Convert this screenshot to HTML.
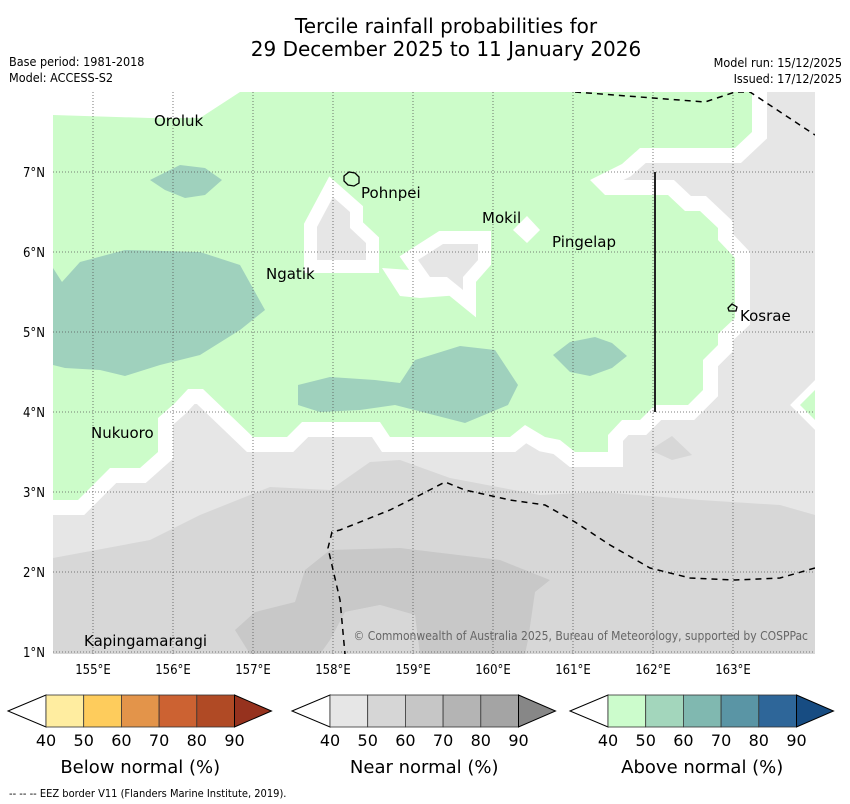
<!DOCTYPE html>
<html><head><meta charset="utf-8"><style>
body{margin:0;background:#fff;width:850px;height:804px;overflow:hidden}
svg{display:block;font-family:"DejaVu Sans Condensed","DejaVu Sans","Liberation Sans",sans-serif}
</style></head><body>
<svg id="chart" width="850" height="804" viewBox="0 0 850 804">
<text x="446" y="33" font-size="20" text-anchor="middle" font-family="DejaVu Sans, sans-serif">Tercile rainfall probabilities for</text>
<text x="446" y="56" font-size="20" text-anchor="middle" font-family="DejaVu Sans, sans-serif">29 December 2025 to 11 January 2026</text>
<text x="9" y="66" font-size="12.5">Base period: 1981-2018</text>
<text x="9" y="82" font-size="12.5">Model: ACCESS-S2</text>
<text x="842" y="67" font-size="12.5" text-anchor="end">Model run: 15/12/2025</text>
<text x="842" y="83" font-size="12.5" text-anchor="end">Issued: 17/12/2025</text>
<defs><clipPath id="mc"><rect x="53" y="92" width="762" height="562"/></clipPath></defs>
<g clip-path="url(#mc)">
<rect x="53" y="92" width="762" height="562" fill="#e6e6e6"/>
<polygon fill="#d7d7d7" points="53,558 150,540 200,515 270,487 330,490 370,462 400,460 450,478 540,495 600,492 700,500 780,505 815,515 815,654 53,654"/>
<polygon fill="#c8c8c8" points="235,630 255,612 295,602 305,570 330,550 400,548 500,560 550,580 535,592 528,640 525,654 420,654 415,615 380,605 345,612 330,640 320,654 250,654"/>
<polygon fill="#d7d7d7" points="345,612 380,605 415,615 418,654 335,654"/>
<polygon fill="#d7d7d7" points="650,450 672,436 692,455 672,460"/>
<polygon fill="#fff" points="53,92 260,92 200,118 53,115"/>
<polygon id="gp" fill="#fff" stroke="#fff" stroke-width="30" stroke-linejoin="miter" points="53,115 150,118 200,118 240,92 752,92 752,132 735,148 640,148 622,164 590,180 605,195 668,195 685,211 700,211 718,228 718,240 735,258 735,318 718,334 718,345 703,360 703,390 688,405 655,405 640,420 622,420 608,435 608,452 575,452 560,440 545,437 525,425 510,437 390,437 380,422 302,422 287,437 253,437 203,389 188,389 175,403 158,418 158,452 140,468 110,468 78,500 53,500"/>
<polygon fill="#ccfcc9" points="53,115 150,118 200,118 240,92 752,92 752,132 735,148 640,148 622,164 590,180 605,195 668,195 685,211 700,211 718,228 718,240 735,258 735,318 718,334 718,345 703,360 703,390 688,405 655,405 640,420 622,420 608,435 608,452 575,452 560,440 545,437 525,425 510,437 390,437 380,422 302,422 287,437 253,437 203,389 188,389 175,403 158,418 158,452 140,468 110,468 78,500 53,500"/>
<polygon fill="#ccfcc9" stroke="#fff" stroke-width="14" points="800,405 815,390 830,405 815,420"/>
<polygon fill="#ccfcc9" points="800,405 815,390 830,405 815,420"/>
<g fill="#9fd1bd">
<polygon points="53,268 62,282 80,262 125,250 200,252 240,265 265,310 240,330 200,355 160,365 125,376 100,370 65,368 53,365"/>
<polygon points="150,180 180,165 205,168 222,180 205,195 185,198 165,190"/>
<polygon points="298,385 330,377 375,380 400,383 415,360 460,346 495,350 518,385 508,405 465,423 395,405 360,410 320,412 298,405"/>
<polygon points="553,355 570,342 595,337 612,343 627,356 612,368 590,376 570,372"/>
</g>
<g fill="#fff" stroke="#fff" stroke-width="26" stroke-linejoin="miter">
<polygon points="333,197 350,212 350,228 366,243 366,260 317,260 317,227"/>
<polygon points="418,260 443,244 478,244 478,260 463,277 463,290 447,277 430,277"/>
</g>
<polygon fill="#fff" points="382,268 410,270 440,285 460,295 420,298 400,296"/>
<g fill="#e6e6e6">
<polygon points="333,197 350,212 350,228 366,243 366,260 317,260 317,227"/>
<polygon points="418,260 443,244 478,244 478,260 463,277 463,290 447,277 430,277"/>
</g>
<polygon fill="#fff" points="513,230 527,216 540,230 527,243"/>
<g id="grid"></g>
<g fill="none" stroke="#000" stroke-width="1.5" stroke-dasharray="6,5">
<polyline points="575,92 705,102 735,92 750,92 815,135"/>
<polyline points="815,568 780,578 735,580 690,578 650,568 610,545 575,522 545,505 510,500 465,490 445,482 420,495 390,510 340,530 332,532 328,548 340,600 345,654"/>
</g>
<line x1="655" y1="172" x2="655" y2="412" stroke="#222" stroke-width="2"/>
<g fill="none" stroke="#000" stroke-width="1.3">
<path d="M344,176 l5,-4 6,1 4,4 0,6 -5,3 -6,-1 -4,-4z"/>
<path d="M728,308 l4,-4 5,3 -1,4 -7,0z"/>
</g>
<g font-size="15" font-family="DejaVu Sans, sans-serif">
<text x="154" y="126">Oroluk</text>
<text x="361" y="198">Pohnpei</text>
<text x="482" y="223">Mokil</text>
<text x="552" y="247">Pingelap</text>
<text x="266" y="279">Ngatik</text>
<text x="740" y="321">Kosrae</text>
<text x="91" y="438">Nukuoro</text>
<text x="84" y="646">Kapingamarangi</text>
</g>
<text x="808" y="640" font-size="12" fill="#666" text-anchor="end">© Commonwealth of Australia 2025, Bureau of Meteorology, supported by COSPPac</text>
</g>
<g id="ticks" font-size="13"></g>
<g id="cbars"></g>
<text x="9" y="797" font-size="11">--  --  -- EEZ border V11 (Flanders Marine Institute, 2019).</text>
</svg>
<script>
const lonTicks=[155,156,157,158,159,160,161,162,163];
const latTicks=[1,2,3,4,5,6,7];
const cbValues=[40,50,60,70,80,90];
const cbTitles=["Below normal (%)","Near normal (%)","Above normal (%)"];
const cbColors=[["#ffeda0","#fecc5c","#e3944a","#cc6232","#b04a25","#96321e"],
["#e6e6e6","#d6d6d6","#c6c6c6","#b4b4b4","#a4a4a4","#878787"],
["#ccfccc","#a3d6bc","#80b8b0","#5a95a5","#2e6699","#174c82"]];
const NS="http://www.w3.org/2000/svg";
const X=lon=>93+(lon-155)*80, Y=lat=>172-(lat-7)*80;
function mk(t,a,p){const e=document.createElementNS(NS,t);for(const k in a)e.setAttribute(k,a[k]);p.appendChild(e);return e;}
const g=document.getElementById('grid'),tk=document.getElementById('ticks');
lonTicks.forEach(v=>{const l=mk('line',{x1:X(v),x2:X(v),y1:92,y2:654,stroke:'#555','stroke-width':0.8,'stroke-dasharray':'1,2'},g);


const t=mk('text',{x:X(v),y:674,'text-anchor':'middle'},tk);t.textContent=v+'°E';

});
latTicks.forEach(v=>{const l=mk('line',{x1:53,x2:815,y1:Y(v),y2:Y(v),stroke:'#555','stroke-width':0.8,'stroke-dasharray':'1,2'},g);


const t=mk('text',{x:45,y:Y(v)+5,'text-anchor':'end'},tk);t.textContent=v+'°N';

});
const cb=document.getElementById('cbars');
const starts=[8,292,570];
starts.forEach((x0,i)=>{const bw=37.7,x1=x0+38,x2=x1+bw*5,y0=695,y1=727,ym=711;
const grp=mk('g',{},cb);


mk('polygon',{points:`${x0},${ym} ${x1},${y0} ${x1},${y1}`,fill:'#fff',stroke:'#000','stroke-width':1},grp);
for(let k=0;k<5;k++){const r=mk('rect',{x:x1+k*bw,y:y0,width:bw,height:32,fill:cbColors[i][k],stroke:'#333','stroke-width':0.8},grp);

}
mk('polygon',{points:`${x2},${y0} ${x2+37},${ym} ${x2},${y1}`,fill:cbColors[i][5],stroke:'#000','stroke-width':1},grp);
cbValues.forEach((v,k)=>{const t=mk('text',{x:x1+k*bw,y:746,'text-anchor':'middle','font-size':16,'font-family':'DejaVu Sans, sans-serif'},grp);t.textContent=v;

});
const tt=mk('text',{x:(x1+x2)/2,y:773,'text-anchor':'middle','font-size':18,'font-family':'DejaVu Sans, sans-serif'},grp);tt.textContent=cbTitles[i];

});
</script>
</body></html>
